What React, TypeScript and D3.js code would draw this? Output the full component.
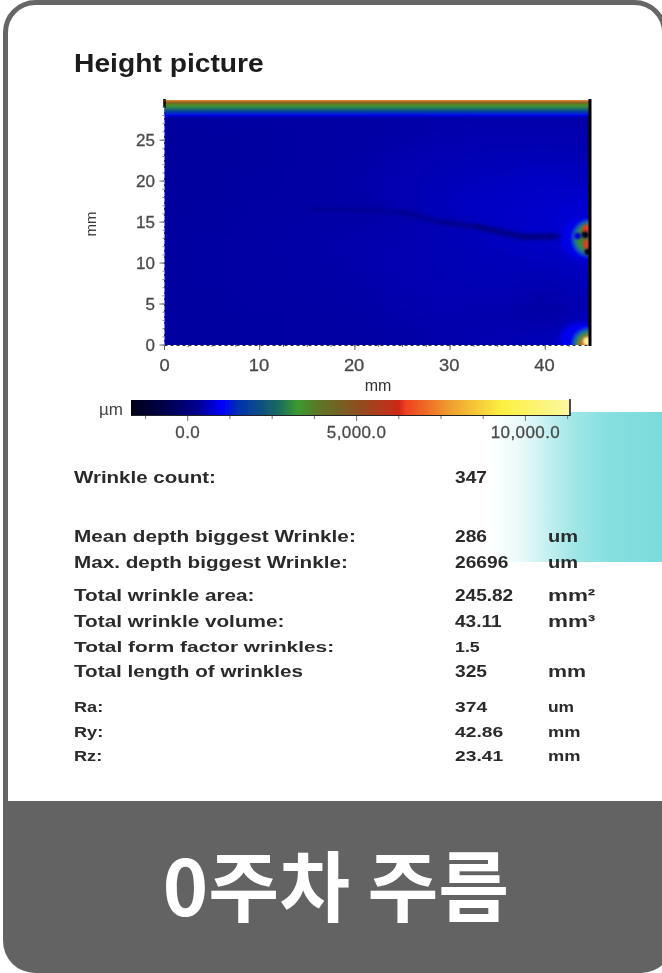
import React from "react";
import * as d3 from "d3";

const xTicks = [0, 10, 20, 30, 40];
const yTicks = [0, 5, 10, 15, 20, 25];
const xMinor = d3.range(0, 45, 2.5);
const yMinor = d3.range(0, 30, 1);
const barMajor = [0, 5000, 10000];
const barLabels = ["0.0", "5,000.0", "10,000.0"];
const barMinor = [-1250, 1250, 2500, 3750, 6250, 7500, 8750, 11250];

// colour map
const cmapValues = [-1680, -600, 300, 1050, 1500, 2700, 3250, 3800, 5000, 6250, 6450, 7800, 9300, 11320];
const cmapColors = ["#000018", "#000050", "#000090", "#0000ff", "#0030b0", "#1a6a60", "#3a9a30", "#587a28", "#8a5020", "#cc2818", "#f04020", "#f0a030", "#fcf040", "#fcf8a0"];

// height samples (um), columns x = 0..45 by 5 mm
const gridX = [0, 5, 10, 15, 20, 25, 30, 35, 40, 45];
const gridY = [0, 4, 8, 12, 14, 16, 20, 24, 27, 28];
const heights = [
  [410, 410, 420, 430, 430, 450, 480, 520, 600, 820],
  [410, 410, 420, 430, 450, 480, 500, 480, 430, 520],
  [410, 420, 440, 450, 470, 510, 540, 560, 540, 600],
  [410, 420, 440, 460, 490, 530, 560, 600, 640, 760],
  [410, 420, 440, 460, 480, 470, 540, 640, 720, 820],
  [400, 410, 430, 440, 440, 510, 620, 680, 720, 780],
  [390, 400, 420, 430, 470, 520, 580, 620, 660, 640],
  [380, 400, 410, 430, 450, 490, 520, 540, 540, 520],
  [390, 400, 410, 420, 430, 450, 470, 480, 480, 480],
  [430, 440, 440, 450, 450, 470, 480, 490, 490, 490],
];
// top edge ramp: y (mm) and height (um)
const rampY = [28.0, 28.3, 28.7, 29.05, 29.35, 29.6, 29.85];
const rampH = [1050, 1700, 2700, 3300, 3800, 5200, 7800];
// dark wrinkle trace
const wrinkleX = [15, 20, 25, 29, 33, 37.7, 41, 42.5];
const wrinkleY = [16.6, 16.5, 16.2, 15, 14.4, 13.2, 13.2, 13.3];
const wrinkleW = [0.5, 0.8, 1.3, 2, 3, 4, 4.5, 2.5];
// soft spots near the right edge: x mm, y mm, radius mm, height
const spotX = [43.9, 44.8, 44.9, 43.6, 44.6, 44.7];
const spotY = [13, 13, 12.9, 0.4, 0, -0.1];
const spotR = [2.2, 1.75, 0.95, 2, 1.55, 1.0];
const spotH = [900, 3100, 4200, 950, 3100, 6800];
// small flecks: x mm, y mm, radius mm, height
const fleckX = [44.35, 44.2, 44.45, 44.5, 43.4, 44.4];
const fleckY = [14.2, 13.5, 12.3, 11.4, 13.3, 0.45];
const fleckR = [0.4, 0.38, 0.42, 0.38, 0.35, 0.42];
const fleckH = [6400, -1500, 6400, -1500, 800, 11000];

const statLabels = ["Wrinkle count:", "Mean depth biggest Wrinkle:", "Max. depth biggest Wrinkle:", "Total wrinkle area:", "Total wrinkle volume:", "Total form factor wrinkles:", "Total length of wrinkles", "Ra:", "Ry:", "Rz:"];
const statValues = ["347", "286", "26696", "245.82", "43.11", "1.5", "325", "374", "42.86", "23.41"];
const statUnits = ["", "um", "um", "mm²", "mm³", "", "mm", "um", "mm", "mm"];

// layout of the table rows
const rowY = [483, 542, 568, 601, 627, 652, 677, 712, 737, 761];
const rowFont = [17, 17, 17, 17, 17, 15.5, 17, 14.5, 14.5, 14.5];
const labelStretch = [1.205, 1.22, 1.215, 1.22, 1.22, 1.345, 1.215, 1.25, 1.25, 1.25];
const valueStretch = [1.13, 1.13, 1.13, 1.12, 1.12, 1.15, 1.13, 1.33, 1.33, 1.33];
const unitStretch = [1.2, 1.18, 1.18, 1.32, 1.32, 1.2, 1.26, 1.2, 1.26, 1.26];

const FONT = "'Liberation Sans', Arial, sans-serif";

function Stretch(p: { x: number; y: number; sx: number; children: React.ReactNode; [k: string]: any }) {
  const { x, y, sx, children, ...rest } = p;
  return <text transform={`translate(${x},${y}) scale(${sx},1)`} {...rest}>{children}</text>;
}

export default function App() {
  const x = d3.scaleLinear().domain([0, 44.7]).range([164.5, 590]);
  const y = d3.scaleLinear().domain([0, 29.9]).range([345, 100]);
  const color = d3.scaleLinear<string>().domain(cmapValues).range(cmapColors);
  const bar = d3.scaleLinear().domain([-1680, 11320]).range([131, 570]);
  const barStops = cmapValues.map((v) => ({ off: (v + 1680) / 13000, c: color(v) }));
  const wrinkleLine = d3.line<number>()
    .x((d) => x(wrinkleX[d]))
    .y((d) => y(wrinkleY[d]));
  const tickFill = "#4a4a4a";

  return (
    <svg width={662} height={973} viewBox="0 0 662 973" style={{ position: "absolute", left: 0, top: 0, fontFamily: FONT }}>
      <defs>
        <filter id="soft" x="-5%" y="-5%" width="110%" height="110%"><feGaussianBlur stdDeviation="0.6" /></filter>
        <filter id="blur3" x="-20%" y="-20%" width="140%" height="140%"><feGaussianBlur stdDeviation="13" /></filter>
        <filter id="blur2" x="-50%" y="-50%" width="200%" height="200%"><feGaussianBlur stdDeviation="2" /></filter>
        <filter id="blur1" x="-50%" y="-50%" width="200%" height="200%"><feGaussianBlur stdDeviation="1" /></filter>
        <clipPath id="plot"><rect x={x(0)} y={y(29.9)} width={x(44.7) - x(0)} height={y(0) - y(29.9)} /></clipPath>
        <clipPath id="panel"><rect x={3} y={0} width={670} height={973} rx={32} /></clipPath>
        <clipPath id="upper"><rect x={0} y={0} width={662} height={801} /></clipPath>
        <linearGradient id="teal" x1="0" x2="1" y1="0" y2="0">
          <stop offset="0" stopColor="#7adcdc" stopOpacity={0} />
          <stop offset="0.19" stopColor="#7adcdc" stopOpacity={0.18} />
          <stop offset="0.48" stopColor="#7adcdc" stopOpacity={0.7} />
          <stop offset="0.68" stopColor="#7adcdc" stopOpacity={0.9} />
          <stop offset="1" stopColor="#7adcdc" />
        </linearGradient>
        <linearGradient id="cbar" x1="0" x2="1" y1="0" y2="0">
          {barStops.map((s, i) => <stop key={i} offset={s.off} stopColor={s.c} />)}
        </linearGradient>
      </defs>

      <rect x={490} y={412} width={172} height={150} fill="url(#teal)" />

      {/* heatmap */}
      <g clipPath="url(#plot)">
        <g filter="url(#blur3)">
          {heights.map((row, j) => row.map((v, i) => {
            const x0 = i === 0 ? -12 : (gridX[i - 1] + gridX[i]) / 2;
            const x1 = i === gridX.length - 1 ? 60 : (gridX[i] + gridX[i + 1]) / 2;
            const y0 = j === 0 ? -12 : (gridY[j - 1] + gridY[j]) / 2;
            const y1 = j === gridY.length - 1 ? 36 : (gridY[j] + gridY[j + 1]) / 2;
            return <rect key={`${i}-${j}`} x={x(x0)} width={x(x1) - x(x0) + 0.5} y={y(y1)} height={y(y0) - y(y1) + 0.5} fill={color(v)} />;
          }))}
        </g>
        <g filter="url(#blur1)">
          {rampY.map((v, i) => (
            <rect key={i} x={x(-3)} width={x(50) - x(-3)} y={y(i === rampY.length - 1 ? 31 : rampY[i + 1])}
              height={y(v) - y(i === rampY.length - 1 ? 31 : rampY[i + 1]) + 0.5} fill={color(rampH[i])} />
          ))}
        </g>
        <g filter="url(#blur2)">
          {wrinkleX.slice(1).map((_, i) => (
            <path key={i} d={wrinkleLine([i, i + 1]) ?? ""} fill="none" stroke="#000050" strokeOpacity={0.8} strokeWidth={wrinkleW[i + 1]} strokeLinecap="round" />
          ))}
        </g>
        <g filter="url(#blur2)">
          {spotX.map((sx, i) => (
            <circle key={i} cx={x(sx)} cy={y(spotY[i])} r={x(spotR[i]) - x(0)} fill={color(spotH[i])} />
          ))}
        </g>
        <g filter="url(#blur1)">
          {fleckX.map((sx, i) => (
            <circle key={i} cx={x(sx)} cy={y(fleckY[i])} r={x(fleckR[i]) - x(0)} fill={color(fleckH[i])} />
          ))}
        </g>
      </g>

      <g filter="url(#soft)">
        <line x1={x(44.7)} x2={x(44.7)} y1={99} y2={346} stroke="#000" strokeWidth={3} />
        <line x1={x(0)} x2={x(0)} y1={99} y2={108} stroke="#000" strokeWidth={2.5} />
        <line x1={x(0)} x2={x(44.7)} y1={345.5} y2={345.5} stroke="#333" strokeWidth={1} strokeDasharray="3 3" />
        <line x1={x(0)} x2={x(0)} y1={100} y2={345} stroke="#333" strokeWidth={1} strokeDasharray="2 4" />
        {xMinor.map((t) => <line key={t} x1={x(t)} x2={x(t)} y1={345} y2={347} stroke="#666" />)}
        {yMinor.map((t) => <line key={t} x1={x(0) - 2} x2={x(0)} y1={y(t)} y2={y(t)} stroke="#888" />)}

        {xTicks.map((t) => (
          <g key={t}>
            <line x1={x(t)} x2={x(t)} y1={345} y2={350} stroke="#666" />
            <Stretch x={x(t) - (t === 0 ? 5 : 11)} y={371} sx={1.08} fontSize={17} fill={tickFill} stroke={tickFill} strokeWidth={0.3}>{t}</Stretch>
          </g>
        ))}
        {yTicks.map((t) => (
          <g key={t}>
            <line x1={x(0) - 5} x2={x(0)} y1={y(t)} y2={y(t)} stroke="#666" />
            <text x={155} y={y(t) + 6} textAnchor="end" fontSize={17} fill={tickFill} stroke={tickFill} strokeWidth={0.3}>{t}</text>
          </g>
        ))}
        <text x={378} y={391} textAnchor="middle" fontSize={16} fill="#333">mm</text>
        <text transform="translate(96,224) rotate(-90)" textAnchor="middle" fontSize={15} fill="#333">mm</text>

        <text x={123} y={415} textAnchor="end" fontSize={17} fill="#444">µm</text>
        <rect x={bar.range()[0]} y={400} width={bar.range()[1] - bar.range()[0]} height={15} fill="url(#cbar)" />
        <line x1={131} x2={570} y1={415.5} y2={415.5} stroke="#222" strokeWidth={1.2} />
        <line x1={570} x2={570} y1={399} y2={416} stroke="#111" strokeWidth={1.5} />
        {barMinor.map((t) => <line key={t} x1={bar(t)} x2={bar(t)} y1={416} y2={419} stroke="#777" />)}
        {barMajor.map((t, i) => (
          <g key={t}>
            <line x1={bar(t)} x2={bar(t)} y1={416} y2={421} stroke="#777" />
            <text x={bar(t)} y={438} textAnchor="middle" fontSize={17} letterSpacing={0.4} fill={tickFill} stroke={tickFill} strokeWidth={0.3}>{barLabels[i]}</text>
          </g>
        ))}

        <Stretch x={74} y={72} sx={1.13} fontSize={25} fontWeight={700} fill="#1a1a1a">Height picture</Stretch>

        {statLabels.map((l, i) => (
          <g key={l} fontSize={rowFont[i]} fontWeight={700} fill="#2a2a2a">
            <Stretch x={74} y={rowY[i]} sx={labelStretch[i]}>{l}</Stretch>
            <Stretch x={455} y={rowY[i]} sx={valueStretch[i]}>{statValues[i]}</Stretch>
            <Stretch x={548} y={rowY[i]} sx={unitStretch[i]}>{statUnits[i]}</Stretch>
          </g>
        ))}
      </g>

      <rect clipPath="url(#panel)" x={3} y={801} width={700} height={172} fill="#636363" />
      <g clipPath="url(#upper)">
        <rect x={5.5} y={2.5} width={659} height={1000} rx={30} fill="none" stroke="#666" strokeWidth={5} />
      </g>
      <text x={336} y={916} textAnchor="middle" fontSize={77} fontWeight={700} fill="#fff"
        fontFamily="'Noto Sans CJK KR', sans-serif">0주차 주름</text>
    </svg>
  );
}
